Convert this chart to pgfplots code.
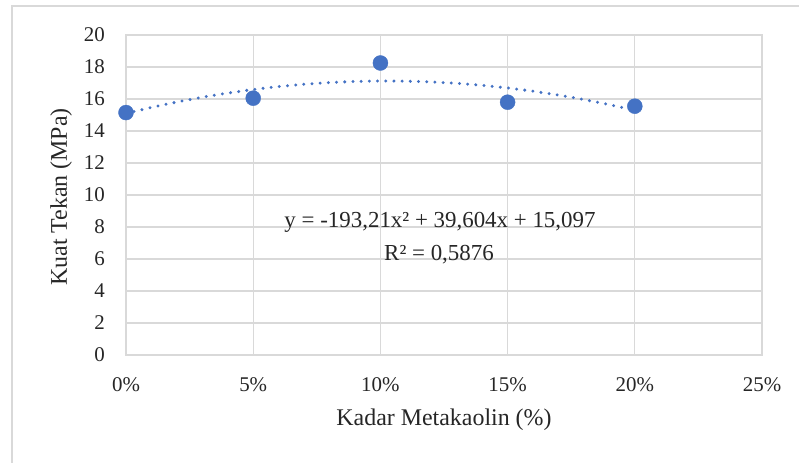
\documentclass[border=0pt]{standalone}
\usepackage{pgfplots}
\pgfplotsset{compat=1.18}
\usepackage{fontspec}
\setmainfont{Liberation Serif}
\definecolor{mblue}{HTML}{4472C4}
\definecolor{gridgray}{HTML}{D9D9D9}
\begin{document}
\begin{tikzpicture}[x=1bp,y=1bp]
\useasboundingbox (0,0) rectangle (799,463);
\draw[gridgray, line width=1.5bp] (12,0) -- (12,457) -- (799,457);
\begin{axis}[
  at={(126bp,108bp)}, anchor=south west,
  scale only axis, width=636bp, height=320bp,
  xmin=0, xmax=0.25, ymin=0, ymax=20,
  xtick={0,0.05,0.1,0.15,0.2,0.25},
  xticklabels={0\%,5\%,10\%,15\%,20\%,25\%},
  ytick={0,2,...,20},
  grid=major,
  major grid style={gridgray, line width=1.3bp},
  axis line style={gridgray, line width=1.3bp},
  major tick length=0pt,
  yticklabel style={font=\fontsize{21}{24}\selectfont, text=black!85, anchor=east, inner sep=0pt, xshift=-21bp},
  xticklabel style={font=\fontsize{21}{24}\selectfont, text=black!85, anchor=center, inner sep=0pt, yshift=-30bp},
  /pgf/number format/assume math mode=true,
  clip=false,
]
% polynomial trendline (values of y = -193.21x^2 + 39.604x + 15.097)
\addplot[mblue, line width=3.3bp, line cap=round, dash pattern=on 0bp off 8.2bp] coordinates {
(0.00,15.0970) (0.01,15.4737) (0.02,15.8118) (0.03,16.1112) (0.04,16.3720)
(0.05,16.5942) (0.06,16.7777) (0.07,16.9226) (0.08,17.0288) (0.09,17.0964)
(0.10,17.1253) (0.11,17.1156) (0.12,17.0673) (0.13,16.9803) (0.14,16.8546)
(0.15,16.6904) (0.16,16.4875) (0.17,16.2459) (0.18,15.9657) (0.19,15.6469)
(0.20,15.2894)
};
\addplot[only marks, mark=*, mark size=7.5bp, mark options={fill=mblue, draw=mblue}] coordinates {
(0.00,15.15) (0.05,16.05) (0.10,18.25) (0.15,15.8) (0.20,15.55)
};
\end{axis}
\node[font=\fontsize{23}{26}\selectfont, text=black!85] at (440,241) {y = -193,21x² + 39,604x + 15,097};
\node[font=\fontsize{23}{26}\selectfont, text=black!85] at (439,208) {R² = 0,5876};
\node[font=\fontsize{24}{28}\selectfont, text=black!85] at (444,43) {Kadar Metakaolin (\%)};
\node[font=\fontsize{24}{28}\selectfont, text=black!85, rotate=90] at (61,266) {Kuat Tekan (MPa)};
\end{tikzpicture}
\end{document}
